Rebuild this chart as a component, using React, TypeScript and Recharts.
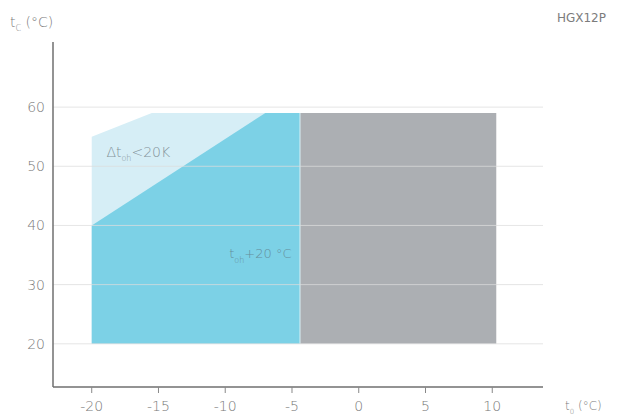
import { ComposedChart, Area, XAxis, YAxis, ReferenceLine, ReferenceDot } from 'recharts';

// envelope outlines (t0 in °C, tc in °C)
const superheatT0 = [-20, -15.5, -4.4];
const superheatTc = [55, 59, 59];
const suctionT0 = [-20, -7.0, -4.4];
const suctionTc = [40, 59, 59];
const extendedT0 = [-4.4, 10.3];
const extendedTc = [59, 59];
const baseTc = 20;

const xTicks = [-20, -15, -10, -5, 0, 5, 10];
const yTicks = [20, 30, 40, 50, 60];

const toRows = (xs: number[], ys: number[]) => xs.map((t0, i) => ({ t0, tc: ys[i] }));

const FONT = '"DejaVu Sans", Lato, sans-serif';
const TEXT = '#7a7a7a';

const AxisTitles = () => (
  <g fontFamily={FONT} fill={TEXT}>
    <text x={10} y={27} fontSize={14} fontWeight={200}>
      t<tspan fontSize={8} dy={4}>C</tspan>
      <tspan dy={-4}> (°C)</tspan>
    </text>
    <text x={606} y={22} fontSize={12} textAnchor="end" fill="#7c7c7c" fontWeight={400}>HGX12P</text>
    <text x={565} y={410} fontSize={12} fontWeight={200}>
      t<tspan fontSize={7} dy={4}>0</tspan>
      <tspan dy={-4}> (°C)</tspan>
    </text>
  </g>
);

const SuperheatLabel = ({ viewBox }: any) => {
  if (!viewBox) return null;
  return (
    <text x={viewBox.x} y={viewBox.y} fontFamily={FONT} fontSize={14} fill="#84939a" fontWeight={200}>
      Δt<tspan fontSize={8} dy={4}>oh</tspan>
      <tspan dy={-4}>&lt;20K</tspan>
    </text>
  );
};

const SuctionLabel = ({ viewBox }: any) => {
  if (!viewBox) return null;
  return (
    <text x={viewBox.x} y={viewBox.y} fontFamily={FONT} fontSize={13} fill="#658f9c" fontWeight={200}>
      t<tspan fontSize={8} dy={5}>oh</tspan>
      <tspan dy={-5}>+20 °C</tspan>
    </text>
  );
};

export default function App() {
  return (
    <div style={{ position: 'absolute', left: 0, top: 0, background: '#fff' }}>
      <ComposedChart width={622} height={417} margin={{ top: 42, right: 79, bottom: 0, left: 0 }}>
        <XAxis
          type="number"
          dataKey="t0"
          domain={[-22.9, 13.8]}
          ticks={xTicks}
          allowDataOverflow
          height={30}
          axisLine={{ stroke: '#6f6f6f', strokeWidth: 1.5 }}
          tickLine={{ stroke: '#888' }}
          tickSize={6}
          tickMargin={8}
          tick={{ fontSize: 14, fill: TEXT, fontFamily: FONT, fontWeight: 200 }}
        />
        <YAxis
          type="number"
          domain={[12.7, 71]}
          ticks={yTicks}
          allowDataOverflow
          width={53}
          axisLine={{ stroke: '#6f6f6f', strokeWidth: 1.5 }}
          tickLine={false}
          tick={{ fontSize: 14, fill: TEXT, fontFamily: FONT, fontWeight: 200 }}
        />
        <Area
          data={toRows(superheatT0, superheatTc)}
          dataKey="tc"
          type="linear"
          baseValue={baseTc}
          fill="#d6eef6"
          fillOpacity={1}
          stroke="none"
          isAnimationActive={false}
        />
        <Area
          data={toRows(suctionT0, suctionTc)}
          dataKey="tc"
          type="linear"
          baseValue={baseTc}
          fill="#7cd1e6"
          fillOpacity={1}
          stroke="none"
          isAnimationActive={false}
        />
        <Area
          data={toRows(extendedT0, extendedTc)}
          dataKey="tc"
          type="linear"
          baseValue={baseTc}
          fill="#acafb3"
          fillOpacity={1}
          stroke="none"
          isAnimationActive={false}
        />
        <ReferenceLine
          segment={[{ x: extendedT0[0], y: baseTc }, { x: extendedT0[0], y: extendedTc[0] }]}
          stroke="#d8f0f6"
          strokeWidth={1}
        />
        {yTicks.map((y) => (
          <ReferenceLine key={y} y={y} stroke="#dcdcdc" strokeOpacity={0.75} strokeWidth={1} />
        ))}
        <ReferenceDot x={-18.9} y={51.6} r={0} fill="none" stroke="none" label={<SuperheatLabel />} />
        <ReferenceDot x={-9.7} y={34.5} r={0} fill="none" stroke="none" label={<SuctionLabel />} />
        <AxisTitles />
      </ComposedChart>
    </div>
  );
}
